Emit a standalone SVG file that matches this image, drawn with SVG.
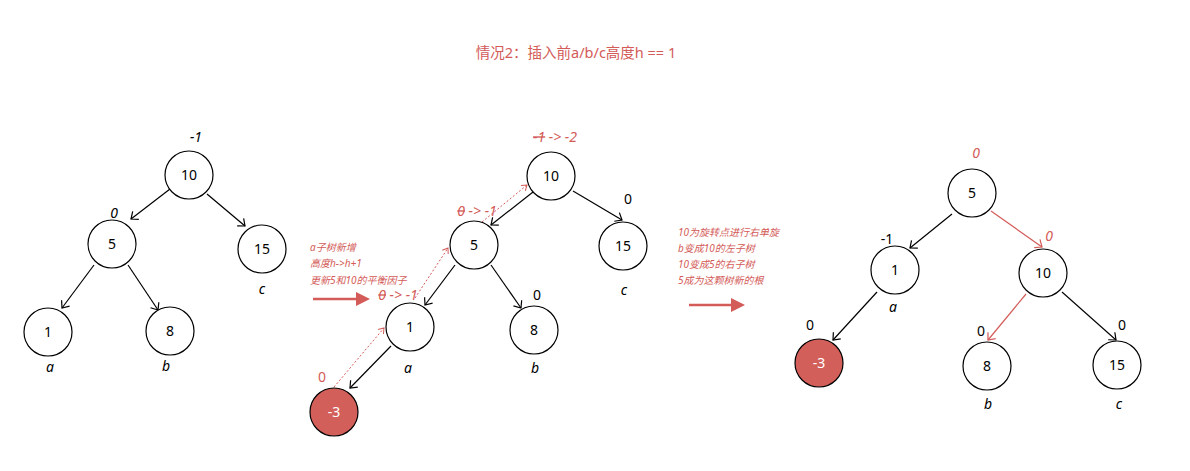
<svg xmlns="http://www.w3.org/2000/svg" width="1190" height="471" viewBox="0 0 1190 471">
<defs>
<marker id="ah" markerWidth="12" markerHeight="12" refX="9" refY="6" orient="auto" markerUnits="userSpaceOnUse"><path d="M3,1 L9,6 L3,11" fill="none" stroke="#000" stroke-width="1.2"/></marker>
<marker id="ahr" markerWidth="12" markerHeight="12" refX="9" refY="6" orient="auto" markerUnits="userSpaceOnUse"><path d="M3,1 L9,6 L3,11" fill="none" stroke="#d35b58" stroke-width="1.2"/></marker>
<marker id="ahd" markerWidth="10" markerHeight="10" refX="7" refY="5" orient="auto" markerUnits="userSpaceOnUse"><path d="M2,1.5 L7,5 L2,8.5" fill="none" stroke="#d35b58" stroke-width="1"/></marker>
</defs>
<style>
text{font-family:"Noto Sans","Noto Sans CJK SC",sans-serif;}
.n circle{fill:#fff;stroke:#000;stroke-width:1.2;}
.n text{font-size:14px;text-anchor:middle;fill:#000;}
.hl circle{fill:#d35f5a;}
.hl text{fill:#fff;}
.e{stroke:#000;stroke-width:1.2;fill:none;marker-end:url(#ah);}
.er{stroke:#d35b58;stroke-width:1.2;fill:none;marker-end:url(#ahr);}
.ed{stroke:#d35b58;stroke-width:1;fill:none;stroke-dasharray:2,2;marker-end:url(#ahd);}
.lb{font-size:14px;font-style:italic;fill:#000;text-anchor:middle;}
.lbn{font-size:14px;fill:#000;text-anchor:middle;}
.rl{font-size:14px;font-style:italic;fill:#d35b58;text-anchor:middle;}
.rn{font-size:14px;fill:#d35b58;text-anchor:middle;}
.note{font-size:10px;font-style:italic;fill:#d35b58;}
.st{text-decoration:line-through;}
.big{stroke:#d35b58;stroke-width:2.5;}
</style>
<text x="576" y="58" font-size="14.5" fill="#d35b58" text-anchor="middle">情况2：插入前a/b/c高度h == 1</text>

<g id="connectors">
<line class="e" x1="170" y1="189" x2="131" y2="219"/>
<line class="e" x1="207" y1="194" x2="245" y2="226"/>
<line class="e" x1="94" y1="265" x2="62" y2="308"/>
<line class="e" x1="128" y1="265" x2="158" y2="310"/>

<line class="e" x1="533" y1="192" x2="491" y2="225"/>
<line class="e" x1="573" y1="191" x2="622" y2="220"/>
<line class="e" x1="455" y1="265" x2="425" y2="305"/>
<line class="e" x1="491" y1="265" x2="521" y2="308"/>
<line class="e" x1="391" y1="346" x2="350" y2="388"/>
<line class="ed" x1="334" y1="387" x2="384" y2="328"/>
<line class="ed" x1="415" y1="298" x2="448" y2="248"/>
<line class="ed" x1="482" y1="222" x2="527" y2="185"/>
<line class="big" x1="313" y1="299" x2="357" y2="299"/>
<polygon points="356,292 370,299 356,306" fill="#d35b58"/>

<line class="big" x1="689" y1="305" x2="732" y2="305"/>
<polygon points="731,298 745,305 731,312" fill="#d35b58"/>
<line class="e" x1="952" y1="214" x2="910" y2="248"/>
<line class="er" x1="991" y1="211" x2="1042" y2="247"/>
<line class="e" x1="877" y1="292" x2="833" y2="340"/>
<line class="er" x1="1026" y1="294" x2="988" y2="340"/>
<line class="e" x1="1062" y1="292" x2="1116" y2="340"/>
</g>

<g id="t1-10" class="n"><circle cx="189" cy="175" r="24"/><text x="189" y="180">10</text></g>
<g id="t1-5" class="n"><circle cx="112" cy="244" r="24"/><text x="112" y="249">5</text></g>
<g id="t1-15" class="n"><circle cx="262" cy="249" r="24"/><text x="262" y="254">15</text></g>
<g id="t1-1" class="n"><circle cx="48" cy="332" r="24"/><text x="48" y="337">1</text></g>
<g id="t1-8" class="n"><circle cx="170" cy="331" r="24"/><text x="170" y="336">8</text></g>
<g id="t1-labels">
<text class="lb" x="196" y="142">-1</text>
<text class="lb" x="114" y="218">0</text>
<text class="lb" x="262" y="294">c</text>
<text class="lb" x="50" y="372">a</text>
<text class="lb" x="166" y="371">b</text>
</g>

<g id="t2-10" class="n"><circle cx="551" cy="176" r="24"/><text x="551" y="181">10</text></g>
<g id="t2-5" class="n"><circle cx="474" cy="245" r="24"/><text x="474" y="250">5</text></g>
<g id="t2-15" class="n"><circle cx="623" cy="246" r="24"/><text x="623" y="251">15</text></g>
<g id="t2-1" class="n"><circle cx="410" cy="327" r="24"/><text x="410" y="332">1</text></g>
<g id="t2-8" class="n"><circle cx="534" cy="330" r="24"/><text x="534" y="335">8</text></g>
<g id="t2-m3" class="n hl"><circle cx="334" cy="412" r="24"/><text x="334" y="417">-3</text></g>
<g id="t2-labels">
<text class="rl" x="555" y="142"><tspan class="st">-1</tspan> -&gt; -2</text>
<text class="lbn" x="628" y="204">0</text>
<text class="rl" x="477" y="216"><tspan class="st">0</tspan> -&gt; -1</text>
<text class="lbn" x="537" y="300">0</text>
<text class="lb" x="624" y="295">c</text>
<text class="lb" x="408" y="373">a</text>
<text class="lb" x="535" y="373">b</text>
<text class="rl" x="398" y="300"><tspan class="st">0</tspan> -&gt; -1</text>
<text class="rn" x="322" y="382">0</text>
<text class="note" x="310" y="251">a子树新增</text>
<text class="note" x="310" y="267">高度h-&gt;h+1</text>
<text class="note" x="310" y="284">更新5和10的平衡因子</text>
</g>

<g id="t3-notes">
<text class="note" x="678" y="236">10为旋转点进行右单旋</text>
<text class="note" x="678" y="252">b变成10的左子树</text>
<text class="note" x="678" y="268">10变成5的右子树</text>
<text class="note" x="678" y="284">5成为这颗树新的根</text>
</g>
<g id="t3-5" class="n"><circle cx="972" cy="193" r="24"/><text x="972" y="198">5</text></g>
<g id="t3-1" class="n"><circle cx="895" cy="270" r="24"/><text x="895" y="275">1</text></g>
<g id="t3-10" class="n"><circle cx="1043" cy="273" r="24"/><text x="1043" y="278">10</text></g>
<g id="t3-m3" class="n hl"><circle cx="819" cy="363" r="24"/><text x="819" y="368">-3</text></g>
<g id="t3-8" class="n"><circle cx="987" cy="366" r="24"/><text x="987" y="371">8</text></g>
<g id="t3-15" class="n"><circle cx="1117" cy="365" r="24"/><text x="1117" y="370">15</text></g>
<g id="t3-labels">
<text class="rl" x="976" y="158">0</text>
<text class="lbn" x="887" y="244">-1</text>
<text class="rl" x="1049" y="241">0</text>
<text class="lb" x="893" y="312">a</text>
<text class="lbn" x="810" y="330">0</text>
<text class="lbn" x="981" y="336">0</text>
<text class="lbn" x="1122" y="330">0</text>
<text class="lb" x="988" y="409">b</text>
<text class="lb" x="1119" y="409">c</text>
</g>
</svg>
